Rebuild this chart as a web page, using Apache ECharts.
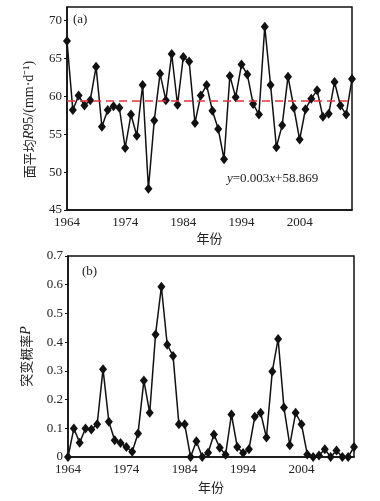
<!DOCTYPE html>
<html>
<head>
<meta charset="utf-8">
<script src="https://cdn.jsdelivr.net/npm/echarts@6/dist/echarts.min.js"></script>
<style>
  html, body { margin: 0; padding: 0; background: #fff; }
  #chart { width: 380px; height: 501px; }
</style>
</head>
<body>
<div id="chart"></div>
<script>
// years 1964-2013
const years = [];
for (let y = 1964; y <= 2013; y++) years.push(String(y));

// (a) area-mean R95 (mm/d)
const r95 = [
  67.3, 58.2, 60.1, 58.8, 59.5, 63.9, 56.0, 58.2, 58.7, 58.5,
  53.2, 57.6, 54.8, 61.5, 47.8, 56.8, 63.0, 59.5, 65.6, 58.9,
  65.2, 64.6, 56.5, 60.1, 61.5, 58.1, 55.7, 51.7, 62.7, 59.9,
  64.2, 62.9, 59.0, 57.6, 69.2, 61.5, 53.3, 56.2, 62.6, 58.5,
  54.3, 58.3, 59.7, 60.8, 57.3, 57.7, 61.9, 58.8, 57.6, 62.3
];
const trendLevel = 59.4;

// (b) change-point probability P
const prob = [
  0, 0.099, 0.050, 0.099, 0.096, 0.114, 0.306, 0.123, 0.058, 0.049,
  0.035, 0.018, 0.082, 0.266, 0.154, 0.427, 0.593, 0.391, 0.352, 0.114,
  0.114, 0, 0.055, 0, 0.015, 0.078, 0.032, 0.008, 0.148, 0.035,
  0.014, 0.027, 0.140, 0.154, 0.068, 0.298, 0.411, 0.172, 0.041, 0.154,
  0.114, 0.009, 0, 0.005, 0.027, 0, 0.023, 0, 0, 0.035
];

const serif = 'Liberation Serif';
const cjk = 'Noto Sans CJK SC';
const textColor = '#222';

const nameRich = {
  c: { fontFamily: cjk, fontSize: 13, color: textColor },
  i: { fontFamily: serif, fontStyle: 'italic', fontSize: 14, color: textColor },
};

const xAxisBase = (gridIndex, gap) => ({
  type: 'category',
  gridIndex: gridIndex,
  data: years,
  boundaryGap: false,
  name: '年份',
  nameLocation: 'middle',
  nameGap: gap,
  nameTextStyle: { fontFamily: cjk, fontSize: 13, color: textColor },
  axisLine: { lineStyle: { color: '#111', width: 1.5 } },
  axisTick: { show: false },
  axisLabel: {
    interval: 9,
    fontFamily: serif,
    fontSize: 13,
    color: textColor,
    margin: 6,
  },
  splitLine: { show: false },
});

const lineSeries = (idx, data) => ({
  type: 'line',
  xAxisIndex: idx,
  yAxisIndex: idx,
  data: data,
  symbol: 'diamond',
  symbolSize: [8, 10],
  showAllSymbol: true,
  lineStyle: { color: '#111', width: 1.5 },
  itemStyle: { color: '#111' },
  clip: false,
  z: 3,
});

const option = {
  animation: false,
  grid: [
    { left: 67, right: 28, top: 7, height: 203, show: true, borderColor: '#111', borderWidth: 1.5 },
    { left: 68, right: 26, top: 256, height: 201, show: true, borderColor: '#111', borderWidth: 1.5 },
  ],
  xAxis: [xAxisBase(0, 22), xAxisBase(1, 24)],
  yAxis: [
    {
      type: 'value',
      gridIndex: 0,
      min: 45,
      max: 71.8,
      interval: 5,
      name: '{c|面平均}{i|R}95/(mm·d⁻¹)',
      nameLocation: 'middle',
      nameGap: 31,
      nameTextStyle: { fontFamily: serif, fontSize: 14, color: textColor, rich: nameRich, padding: [0, 22, 0, 0] },
      axisLine: { show: true, lineStyle: { color: '#111', width: 1.5 } },
      axisTick: { show: true, length: 3, lineStyle: { color: '#111' } },
      axisLabel: { fontFamily: serif, fontSize: 13, color: textColor, margin: 5, showMaxLabel: false },
      splitLine: { show: false },
    },
    {
      type: 'value',
      gridIndex: 1,
      min: 0,
      max: 0.7,
      interval: 0.1,
      name: '{c|突变概率}{i|P}',
      nameLocation: 'middle',
      nameGap: 35,
      nameTextStyle: { fontFamily: serif, fontSize: 14, color: textColor, rich: nameRich },
      axisLine: { show: true, lineStyle: { color: '#111', width: 1.5 } },
      axisTick: { show: true, length: 3, lineStyle: { color: '#111' } },
      axisLabel: {
        fontFamily: serif,
        fontSize: 13,
        color: textColor,
        margin: 5,
        formatter: (v) => (v === 0 ? '0' : v.toFixed(1)),
      },
      splitLine: { show: false },
    },
  ],
  series: [
    Object.assign(lineSeries(0, r95), {
      markLine: {
        silent: true,
        symbol: 'none',
        label: { show: false },
        lineStyle: { color: '#e8323c', type: [8, 5], width: 1.5 },
        data: [{ yAxis: trendLevel }],
      },
    }),
    lineSeries(1, prob),
  ],
  graphic: [
    {
      type: 'text',
      left: 73,
      top: 13,
      style: { text: '(a)', fontFamily: serif, fontSize: 13, fill: textColor },
    },
    {
      type: 'text',
      left: 82,
      top: 265,
      style: { text: '(b)', fontFamily: serif, fontSize: 13, fill: textColor },
    },
    {
      type: 'text',
      left: 227,
      top: 172,
      style: {
        text: '{i|y}=0.003{i|x}+58.869',
        fontFamily: serif,
        fontSize: 13,
        fill: textColor,
        rich: { i: { fontFamily: serif, fontStyle: 'italic', fontSize: 13, fill: textColor } },
      },
    },
  ],
};

const myChart = echarts.init(document.getElementById('chart'));
myChart.setOption(option);
</script>
</body>
</html>
